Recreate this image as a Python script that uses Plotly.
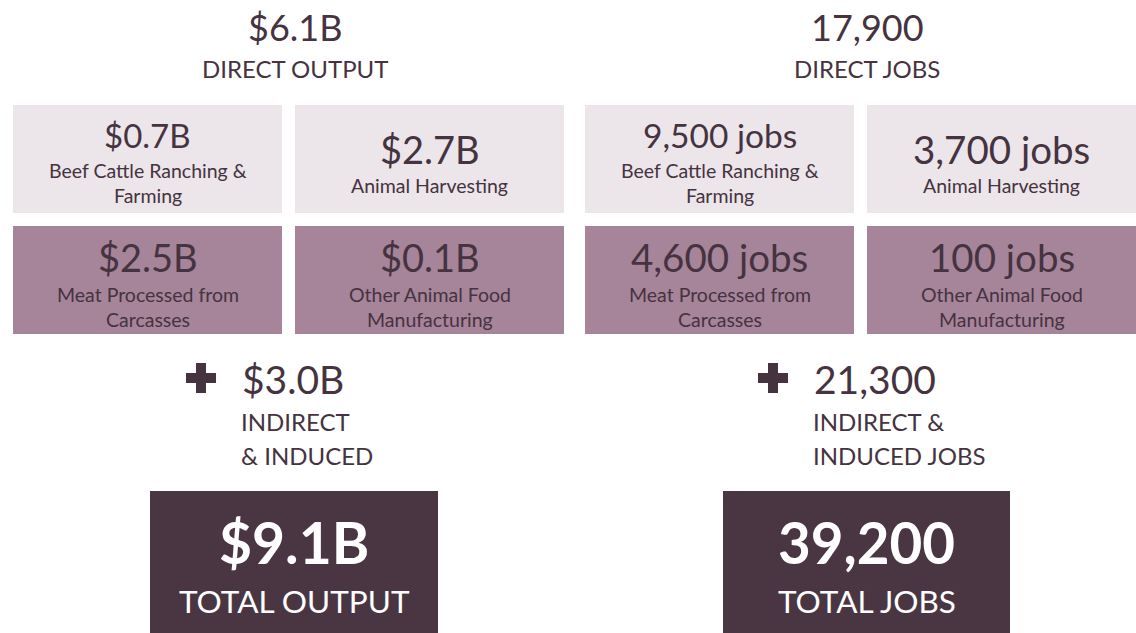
import plotly.graph_objects as go

# ---- data ----
output_total_direct = "$6.1B"
output_direct_label = "DIRECT OUTPUT"
jobs_total_direct = "17,900"
jobs_direct_label = "DIRECT JOBS"

sectors = [["Beef Cattle Ranching &", "Farming"], ["Animal Harvesting"],
           ["Meat Processed from", "Carcasses"], ["Other Animal Food", "Manufacturing"]]
output_values = ["$0.7B", "$2.7B", "$2.5B", "$0.1B"]
jobs_values = ["9,500 jobs", "3,700 jobs", "4,600 jobs", "100 jobs"]

indirect_output = "$3.0B"
indirect_output_label = ["INDIRECT", "& INDUCED"]
indirect_jobs = "21,300"
indirect_jobs_label = ["INDIRECT &", "INDUCED JOBS"]

total_output = "$9.1B"
total_output_label = "TOTAL OUTPUT"
total_jobs = "39,200"
total_jobs_label = "TOTAL JOBS"

# ---- style ----
W, H = 1136, 633
FONT = "Lato, Calibri, Carlito, sans-serif"
TXT = "#45333F"
LIGHT = "#ECE5EA"
MID = "#A6849A"
DARK = "#4A3642"

fig = go.Figure()
shapes = []
ann = []

def text(x, y, s, size, color=TXT, bold=False, xanchor="center"):
    if bold:
        s = "<b>" + s + "</b>"
    ann.append(dict(x=x, y=y, xref="x", yref="y", text=s, showarrow=False,
                    xanchor=xanchor, yanchor="middle", align=xanchor if xanchor != "center" else "center",
                    font=dict(family=FONT, size=size, color=color)))

def rect(x0, y0, x1, y1, color):
    shapes.append(dict(type="rect", xref="x", yref="y", x0=x0, y0=y0, x1=x1, y1=y1,
                       fillcolor=color, line=dict(width=0), layer="below"))

def plus(cx, cy, size, thick, color):
    rect(cx - size / 2, cy - thick / 2, cx + size / 2, cy + thick / 2, color)
    rect(cx - thick / 2, cy - size / 2, cx + thick / 2, cy + size / 2, color)

panels = [
    dict(x0=13, head=(output_total_direct, output_direct_label), vals=output_values,
         extra=(indirect_output, indirect_output_label), total=(total_output, total_output_label),
         plus_x=201, extra_x=240, tot=(150, 438),
         big=[33, 38, 38, 38], tot_size=57),
    dict(x0=585, head=(jobs_total_direct, jobs_direct_label), vals=jobs_values,
         extra=(indirect_jobs, indirect_jobs_label), total=(total_jobs, total_jobs_label),
         plus_x=773, extra_x=812, tot=(723, 1010),
         big=[33.5, 38.5, 38.5, 38.5], tot_size=56.5),
]

bw, gap = 269, 13
rows = [(105, 213), (226, 334)]
for p in panels:
    x0 = p["x0"]
    cx = x0 + 282
    text(cx, 27, p["head"][0], 36)
    text(cx, 68, p["head"][1], 24)
    for i, (val, lab) in enumerate(zip(p["vals"], sectors)):
        r, c = divmod(i, 2)
        bx0 = x0 + c * (bw + gap)
        bx1 = bx0 + bw
        by0, by1 = rows[r]
        rect(bx0, by0, bx1, by1, LIGHT if r == 0 else MID)
        bcx = (bx0 + bx1) / 2
        if len(lab) == 2:
            text(bcx, by0 + (30 if r == 0 else 31), val, p["big"][i])
            ly = by0 + (65 if r == 0 else 68)
        else:
            text(bcx, by0 + 44, val, p["big"][i])
            ly = by0 + 80
        for k, line in enumerate(lab):
            text(bcx, ly + k * 25.5, line, 19.5)
    plus(p["plus_x"], 378, 30, 10, TXT)
    text(p["extra_x"], 379, p["extra"][0], 39, xanchor="left")
    for k, line in enumerate(p["extra"][1]):
        text(p["extra_x"] - 1, 421 + k * 34, line, 24, xanchor="left")
    t0, t1 = p["tot"]
    rect(t0, 491, t1, H + 5, DARK)
    text((t0 + t1) / 2, 542, p["total"][0], p["tot_size"], color="white", bold=True)
    text((t0 + t1) / 2, 601, p["total"][1], 31.5, color="white")

fig.update_layout(
    width=W, height=H, margin=dict(l=0, r=0, t=0, b=0),
    paper_bgcolor="white", plot_bgcolor="white",
    xaxis=dict(range=[0, W], visible=False, fixedrange=True),
    yaxis=dict(range=[H, 0], visible=False, fixedrange=True),
    shapes=shapes, annotations=ann, showlegend=False,
)
fig.write_html("out.html", config={"displayModeBar": False},
               post_script="document.body.style.margin='0';document.body.style.overflow='hidden';")
